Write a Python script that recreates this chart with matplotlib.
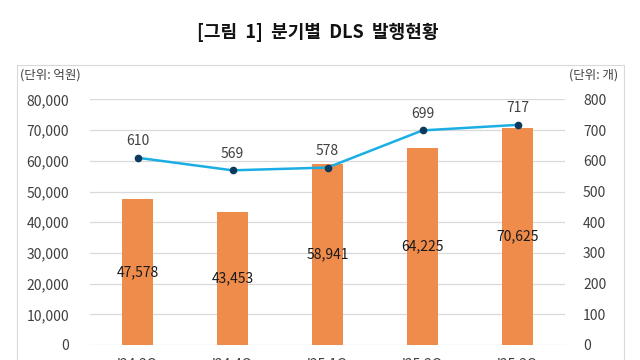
import matplotlib
matplotlib.use("Agg")
import matplotlib.pyplot as plt
from matplotlib.patches import Rectangle

plt.rcParams['font.family'] = ['Noto Sans CJK KR', 'DejaVu Sans']

categories = ["'24.3Q", "'24.4Q", "'25.1Q", "'25.2Q", "'25.3Q"]
amount = [47578, 43453, 58941, 64225, 70625]   # 억원
count = [610, 569, 578, 699, 717]              # 개

fig = plt.figure(figsize=(6.4, 3.6), dpi=100)
W, H = 640, 360

fig.text(318 / W, 1 - 32 / H, "[그림  1]  분기별  DLS  발행현황", ha='center', va='center',
         fontsize=13, fontweight='bold', color='#111111')

fig.patches.append(Rectangle((17 / W, -0.1), (624 - 17) / W, 1 - 65 / H + 0.1,
                             transform=fig.transFigure, fill=False,
                             edgecolor='#D9D9D9', linewidth=0.8))

ax = fig.add_axes([90 / W, 1 - 345 / H, (565 - 90) / W, (345 - 99.4) / H])
x = list(range(len(categories)))
ax.bar(x, amount, width=0.32, color='#EF8B4B', zorder=2)
ax.set_xlim(-0.5, len(categories) - 0.5)
ax.set_ylim(0, 80000)
ax.set_yticks(range(0, 80001, 10000))
ax.set_yticklabels([f"{v:,}" for v in range(0, 80001, 10000)])
ax.set_xticks(x)
ax.set_xticklabels(categories)
ax.grid(axis='y', color='#D9D9D9', linewidth=0.9, zorder=0)
for s in ax.spines.values():
    s.set_visible(False)
ax.tick_params(axis='both', length=0, labelsize=10, colors='#404040')
ax.tick_params(axis='y', pad=15)
ax.tick_params(axis='x', pad=9)

for xi, v in zip(x, amount):
    ax.text(xi, v / 2, f"{v:,}", ha='center', va='center', fontsize=10, color='#1a1a1a', zorder=4)

ax2 = ax.twinx()
ax2.set_ylim(0, 800)
ax2.set_yticks(range(0, 801, 100))
for s in ax2.spines.values():
    s.set_visible(False)
ax2.tick_params(axis='y', length=0, labelsize=10, colors='#404040', pad=13)
ax2.plot(x, count, color='#1AAEE4', linewidth=1.8, marker='o', markersize=4.5,
         markerfacecolor='#0B3A5C', markeredgecolor='#0B3A5C', zorder=3)
for xi, v in zip(x, count):
    ax2.annotate(f"{v}", (xi, v), xytext=(0, 12), textcoords='offset points',
                 ha='center', va='center', fontsize=10, color='#404040')

fig.text(20 / W, 1 - 75 / H, "(단위: 억원)", ha='left', va='center', fontsize=9, color='#404040')
fig.text(618 / W, 1 - 75 / H, "(단위: 개)", ha='right', va='center', fontsize=9, color='#404040')

fig.savefig("out.png", dpi=100)
